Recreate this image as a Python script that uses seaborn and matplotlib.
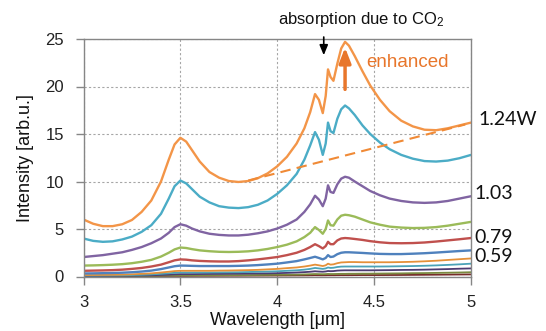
import matplotlib
matplotlib.use("Agg")
import matplotlib.pyplot as plt
import seaborn as sns
import pandas as pd

# ---- data ----
wavelength = [3.0, 3.05, 3.1, 3.15, 3.2, 3.25, 3.3, 3.35, 3.4, 3.44, 3.47, 3.5,
              3.53, 3.56, 3.6, 3.65, 3.7, 3.75, 3.8, 3.85, 3.9, 3.95, 4.0,
              4.05, 4.1, 4.14, 4.17, 4.195, 4.215, 4.235, 4.25, 4.262, 4.275, 4.29, 4.31, 4.33, 4.35,
              4.37, 4.4, 4.44, 4.48, 4.53, 4.58, 4.64, 4.7, 4.76, 4.82, 4.88, 4.94, 5.0]

s_orange = [6.0, 5.55, 5.3, 5.3, 5.5, 5.95, 6.8, 8.0, 10.0, 12.3, 13.9, 14.6,
            14.2, 13.3, 12.1, 11.0, 10.4, 10.05, 9.95, 10.05, 10.35, 10.85, 11.6,
            12.6, 14.0, 15.6, 17.3, 19.2, 18.6, 17.2, 19.0, 21.8, 21.0, 20.6, 22.4, 24.0, 24.7,
            24.3, 23.2, 21.6, 20.1, 18.6, 17.4, 16.4, 15.8, 15.45, 15.4, 15.6, 15.9, 16.2]
s_teal = [4.0, 3.75, 3.65, 3.7, 3.9, 4.2, 4.7, 5.4, 6.6, 8.2, 9.5, 10.1,
          9.8, 9.2, 8.4, 7.8, 7.4, 7.25, 7.2, 7.3, 7.55, 8.0, 8.7,
          9.6, 10.8, 12.3, 13.8, 15.2, 14.4, 12.8, 14.0, 16.2, 15.3, 15.1, 16.6, 17.6, 18.0,
          17.7, 17.0, 15.9, 15.0, 14.1, 13.4, 12.8, 12.4, 12.15, 12.1, 12.2, 12.45, 12.8]
s_purple = [2.05, 2.15, 2.25, 2.4, 2.55, 2.8, 3.1, 3.5, 4.0, 4.6, 5.2, 5.5,
            5.35, 5.05, 4.75, 4.5, 4.38, 4.32, 4.32, 4.4, 4.55, 4.75, 5.05,
            5.45, 6.0, 6.8, 7.6, 8.5, 8.1, 7.4, 8.2, 9.6, 8.9, 8.8, 9.7, 10.3, 10.5,
            10.4, 10.0, 9.5, 9.0, 8.55, 8.2, 7.95, 7.8, 7.75, 7.8, 7.95, 8.2, 8.45]
s_green = [1.15, 1.17, 1.2, 1.24, 1.3, 1.4, 1.55, 1.75, 2.1, 2.5, 2.85, 3.05,
           3.0, 2.88, 2.75, 2.66, 2.6, 2.58, 2.6, 2.65, 2.75, 2.9, 3.1,
           3.35, 3.7, 4.15, 4.6, 5.2, 4.9, 4.5, 5.0, 5.9, 5.4, 5.35, 6.0, 6.4, 6.5,
           6.45, 6.3, 6.0, 5.7, 5.45, 5.25, 5.15, 5.1, 5.12, 5.2, 5.35, 5.55, 5.75]
s_red = [0.6, 0.62, 0.64, 0.67, 0.72, 0.8, 0.9, 1.05, 1.25, 1.5, 1.7, 1.8,
         1.77, 1.7, 1.64, 1.6, 1.58, 1.58, 1.62, 1.7, 1.8, 1.92, 2.05,
         2.25, 2.5, 2.8, 3.1, 3.4, 3.2, 2.95, 3.2, 3.65, 3.4, 3.4, 3.8, 4.0, 4.05,
         4.02, 3.95, 3.85, 3.72, 3.6, 3.52, 3.5, 3.52, 3.58, 3.68, 3.8, 3.92, 4.05]
s_blue = [0.32, 0.33, 0.35, 0.37, 0.4, 0.45, 0.52, 0.62, 0.78, 0.95, 1.08, 1.15,
          1.14, 1.12, 1.1, 1.1, 1.1, 1.1, 1.12, 1.15, 1.2, 1.27, 1.35,
          1.48, 1.62, 1.8, 1.95, 2.08, 1.95, 1.8, 1.95, 2.25, 2.05, 2.1, 2.35, 2.5, 2.55,
          2.55, 2.52, 2.48, 2.43, 2.38, 2.36, 2.36, 2.4, 2.45, 2.52, 2.6, 2.68, 2.75]
s_orange2 = [0.15, 0.16, 0.17, 0.18, 0.2, 0.23, 0.28, 0.33, 0.42, 0.5, 0.57, 0.6,
             0.6, 0.6, 0.6, 0.6, 0.62, 0.63, 0.65, 0.67, 0.7, 0.75, 0.8,
             0.88, 0.95, 1.05, 1.15, 1.25, 1.18, 1.1, 1.18, 1.35, 1.25, 1.28, 1.4, 1.48, 1.5,
             1.52, 1.52, 1.5, 1.5, 1.5, 1.5, 1.52, 1.55, 1.6, 1.66, 1.74, 1.82, 1.9]
s_teal2 = [0.1, 0.1, 0.11, 0.12, 0.13, 0.15, 0.18, 0.22, 0.28, 0.34, 0.39, 0.42,
           0.42, 0.42, 0.42, 0.42, 0.43, 0.44, 0.45, 0.47, 0.5, 0.52, 0.55,
           0.6, 0.65, 0.72, 0.8, 0.9, 0.85, 0.8, 0.85, 0.95, 0.9, 0.92, 1.0, 1.04, 1.05,
           1.05, 1.05, 1.05, 1.05, 1.05, 1.06, 1.08, 1.1, 1.13, 1.17, 1.22, 1.28, 1.35]
s_navy = [0.05, 0.055, 0.06, 0.07, 0.08, 0.09, 0.11, 0.13, 0.17, 0.2, 0.23, 0.25,
          0.25, 0.25, 0.26, 0.27, 0.28, 0.29, 0.3, 0.31, 0.32, 0.33, 0.35,
          0.38, 0.42, 0.46, 0.5, 0.55, 0.52, 0.5, 0.53, 0.58, 0.56, 0.57, 0.62, 0.64, 0.65,
          0.65, 0.65, 0.65, 0.65, 0.66, 0.67, 0.69, 0.7, 0.72, 0.75, 0.78, 0.82, 0.85]
s_olive = [0.03, 0.035, 0.04, 0.045, 0.05, 0.06, 0.07, 0.08, 0.09, 0.1, 0.11, 0.12,
           0.12, 0.12, 0.13, 0.13, 0.14, 0.14, 0.15, 0.15, 0.16, 0.17, 0.18,
           0.19, 0.2, 0.22, 0.24, 0.26, 0.25, 0.24, 0.25, 0.27, 0.26, 0.26, 0.27, 0.28, 0.28,
           0.29, 0.29, 0.3, 0.3, 0.31, 0.32, 0.33, 0.35, 0.36, 0.38, 0.4, 0.42, 0.45]
s_brown = [0.02, 0.02, 0.02, 0.025, 0.03, 0.035, 0.04, 0.045, 0.05, 0.055, 0.06, 0.06,
           0.06, 0.065, 0.07, 0.07, 0.075, 0.08, 0.08, 0.085, 0.09, 0.095, 0.1,
           0.105, 0.11, 0.115, 0.12, 0.13, 0.125, 0.12, 0.125, 0.13, 0.13, 0.13, 0.135, 0.14, 0.14,
           0.14, 0.145, 0.15, 0.15, 0.15, 0.155, 0.16, 0.17, 0.18, 0.19, 0.2, 0.21, 0.22]

series_names = ["s_orange", "s_teal", "s_purple", "s_green", "s_red", "s_blue",
                "s_orange2", "s_teal2", "s_navy", "s_olive", "s_brown"]
series_values = [s_orange, s_teal, s_purple, s_green, s_red, s_blue,
                 s_orange2, s_teal2, s_navy, s_olive, s_brown]
series_colors = ["#F39548", "#4BACC6", "#8064A2", "#9BBB59", "#C0504D", "#4F81BD",
                 "#E59038", "#4BA3B8", "#4D3B72", "#7A8A40", "#772C2A"]
for v in series_values:
    assert len(v) == len(wavelength)

# dashed baseline (start / end)
dash_x = [3.85, 4.97]
dash_y = [10.1, 16.0]

right_labels = ["1.24W", "1.03", "0.79", "0.59"]
right_label_y = [16.5, 8.7, 4.15, 2.06]
right_label_x = [5.04, 5.016, 5.016, 5.016]

xticks = [3, 3.5, 4, 4.5, 5]
xtick_labels = ["3", "3.5", "4", "4.5", "5"]
yticks = [0, 5, 10, 15, 20, 25]

# ---- long table ----
rows = []
for name, vals in zip(series_names, series_values):
    for x, y in zip(wavelength, vals):
        rows.append({"wl": x, "I": y, "series": name})
df = pd.DataFrame(rows)

sns.set_style("ticks")
plt.rcParams["font.family"] = ["Liberation Sans", "DejaVu Sans"]
plt.rcParams["mathtext.default"] = "regular"

fig = plt.figure(figsize=(5.46, 3.31), dpi=100)
ax = fig.add_axes([83.5 / 546, 1 - 276.5 / 331, (471 - 83.5) / 546, (276.5 - 39) / 331])

# draw lowest first so top curves overlay
pal = dict(zip(series_names, series_colors))
for name in reversed(series_names):
    sub = df[df["series"] == name]
    sns.lineplot(data=sub, x="wl", y="I", color=pal[name],
                 lw=1.7 if name in series_names[:6] else 1.3,
                 ax=ax, legend=False, sort=False)

ax.plot(dash_x, dash_y, color="#F08A36", lw=1.5, dashes=(5, 3))

ax.set_xlim(3, 5)
ax.set_ylim(0, 25)
ax.set_xticks(xticks)
ax.set_xticklabels(xtick_labels)
ax.set_yticks(yticks)
ax.grid(True, color="#A6A6A6", linestyle=(0, (2, 2)), lw=0.8)
ax.set_axisbelow(True)
for sp in ax.spines.values():
    sp.set_color("#868686")
    sp.set_linewidth(1.0)
ax.tick_params(axis="both", labelsize=12, colors="#868686", labelcolor="#222222",
               length=6, width=1.0, direction="out")
ax.tick_params(axis="y", pad=8)
ax.tick_params(axis="x", pad=7)
ax.set_xlabel("Wavelength [\u03bcm]", fontsize=13, color="#111111", labelpad=2)
ax.set_ylabel("Intensity [arb.u.]", fontsize=13, color="#111111", labelpad=8)

# annotations
ax.text(4.432, 27.1, "absorption due to CO$_2$", ha="center", va="center",
        fontsize=12, color="#111111", clip_on=False)
ax.annotate("", xy=(4.24, 23.0), xytext=(4.24, 25.5),
            arrowprops=dict(arrowstyle="-|>,head_length=0.6,head_width=0.25",
                            color="black", lw=1.2, mutation_scale=10),
            annotation_clip=False)
ax.annotate("", xy=(4.35, 24.1), xytext=(4.35, 19.7),
            arrowprops=dict(arrowstyle="-|>,head_length=0.9,head_width=0.35",
                            color="#E8762B", lw=2.5, mutation_scale=10,
                            shrinkA=0, shrinkB=0))
ax.text(4.458, 22.5, "enhanced", ha="left", va="center", fontsize=13.5, color="#E8762B")

for lab, lx, ly in zip(right_labels, right_label_x, right_label_y):
    ax.text(lx, ly, lab, ha="left", va="center", fontsize=14, color="#111111",
            family=["Lato", "DejaVu Sans"], clip_on=False)

fig.savefig("out.png", dpi=100)
